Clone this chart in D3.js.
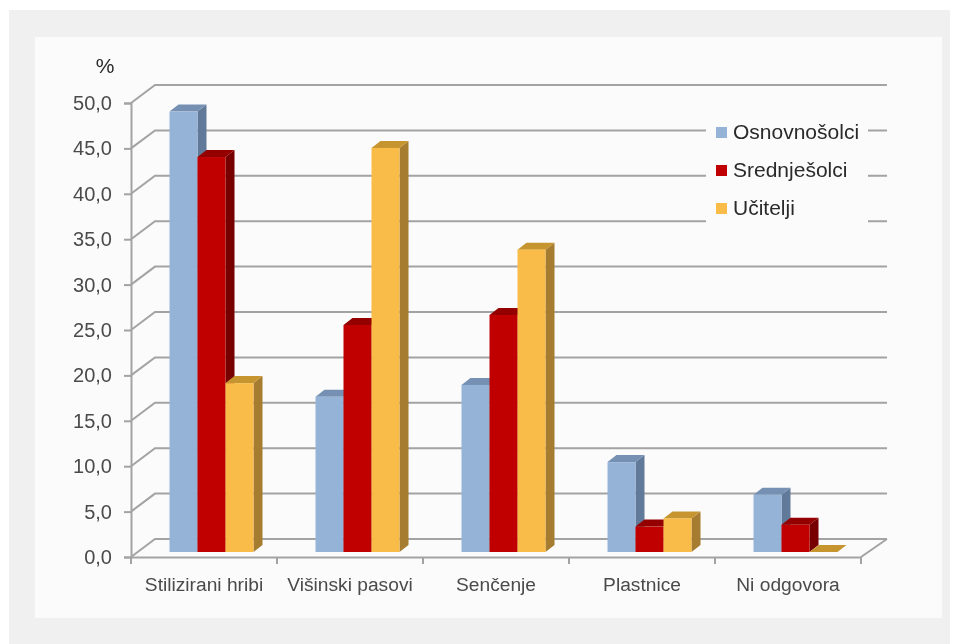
<!DOCTYPE html>
<html>
<head>
<meta charset="utf-8">
<script src="https://cdn.jsdelivr.net/npm/d3@7"></script>
<style>
  html, body { margin: 0; padding: 0; background: #fff; }
  svg { display: block; filter: blur(0.45px); }
  text { font-family: "Liberation Sans", Arial, sans-serif; fill: #4a4a4a; }
</style>
</head>
<body>
<svg id="chart" width="959" height="644"></svg>
<script>
const categories = ["Stilizirani hribi", "Višinski pasovi", "Senčenje", "Plastnice", "Ni odgovora"];
const seriesNames = ["Osnovnošolci", "Srednješolci", "Učitelji"];
const osnovnosolci = [48.5, 17.1, 18.4, 9.9, 6.3];
const srednjesolci = [43.5, 25.0, 26.1, 2.8, 3.0];
const ucitelji = [18.6, 44.5, 33.3, 3.7, 0];
const yTicks = [0, 5, 10, 15, 20, 25, 30, 35, 40, 45, 50];

const seriesValues = [osnovnosolci, srednjesolci, ucitelji];
const front = ["#95b3d7", "#c00000", "#f9bc48"];
const side = ["#627a99", "#770000", "#a67c30"];
const topFace = ["#7590b3", "#940000", "#c6952f"];

const gridColor = "#a3a3a3";
const svg = d3.select("#chart");

// picture frame
svg.append("rect").attr("x", 9).attr("y", 10).attr("width", 941).attr("height", 640).attr("fill", "#f0f0f0");
svg.append("rect").attr("x", 35).attr("y", 37).attr("width", 907).attr("height", 581).attr("fill", "#fbfbfb");

const x = d3.scaleBand().domain(categories).range([131, 861]);
const y = d3.scaleLinear().domain([0, 50]).range([557, 103]);

// depth of the box and of the bars
const wall = { dx: 24, dy: -18 };
const bar = { dx: 9, dy: -7 };
const inset = { dx: 7.5, dy: -5 };

// back wall gridlines and their diagonals on the side wall
const grid = svg.append("g").attr("fill", "none").attr("stroke", gridColor).attr("stroke-width", 2);
grid.selectAll("path")
  .data(yTicks)
  .enter()
  .append("path")
  .attr("d", (d) => `M${x.range()[0]},${y(d)}L${x.range()[0] + wall.dx},${y(d) + wall.dy}H887`);

// floor
grid.append("path")
  .attr("d", `M${x.range()[1]},${y(0)}L887,${y(0) + wall.dy}`);

// legend box hides the gridlines
svg.append("rect").attr("x", 706).attr("y", 118).attr("width", 162).attr("height", 108).attr("fill", "#fbfbfb");

const xAxis = d3.axisBottom(x).tickSize(0).tickPadding(20);
const gx = svg.append("g").attr("transform", `translate(0,${y(0)})`).call(xAxis);
gx.selectAll("text").attr("font-size", 19.2).attr("font-family", null);
gx.select(".domain").attr("stroke", gridColor).attr("stroke-width", 2);
gx.selectAll(".tick line").remove();
gx.selectAll("line.sep")
  .data(d3.range(categories.length + 1))
  .enter()
  .append("line")
  .attr("class", "sep")
  .attr("x1", (i) => 131 + i * x.step())
  .attr("x2", (i) => 131 + i * x.step())
  .attr("y1", 0)
  .attr("y2", 7)
  .attr("stroke", gridColor)
  .attr("stroke-width", 2);

const yAxis = d3.axisLeft(y)
  .tickValues(yTicks)
  .tickSize(7)
  .tickPadding(12)
  .tickFormat((d) => d3.format(".1f")(d).replace(".", ","));
const gy = svg.append("g").attr("transform", "translate(131,0)").call(yAxis);
gy.selectAll("text").attr("font-size", 20).attr("font-family", null);
gy.select(".domain").attr("stroke", gridColor).attr("stroke-width", 2);
gy.selectAll(".tick line").attr("stroke", gridColor).attr("stroke-width", 2);

svg.append("text")
  .attr("x", 105).attr("y", 73)
  .attr("text-anchor", "middle")
  .attr("font-size", 21)
  .style("fill", "#2a2a2a")
  .text("%");

// bars, left to right so side faces are overlapped correctly
const barW = 28;
const groupW = barW * seriesNames.length;
const bars = svg.append("g");
categories.forEach((cat, c) => {
  seriesNames.forEach((name, s) => {
    const v = seriesValues[s][c];
    const x0 = x(cat) + (x.step() - groupW) / 2 + inset.dx + s * barW;
    const x1 = x0 + barW;
    const y0 = y(0) + inset.dy;
    const yTop = y(v) + inset.dy;
    const g = bars.append("g");
    g.append("path")
      .attr("fill", side[s])
      .attr("d", `M${x1},${yTop}L${x1 + bar.dx},${yTop + bar.dy}V${y0 + bar.dy}L${x1},${y0}Z`);
    g.append("path")
      .attr("fill", topFace[s])
      .attr("d", `M${x0},${yTop}L${x0 + bar.dx},${yTop + bar.dy}H${x1 + bar.dx}L${x1},${yTop}Z`);
    if (v > 0) {
      g.append("rect")
        .attr("x", x0)
        .attr("y", yTop)
        .attr("width", barW)
        .attr("height", y0 - yTop)
        .attr("fill", front[s]);
    }
  });
});

// legend
const legendY = d3.scalePoint().domain(seriesNames).range([132.5, 208.5]);
const legend = svg.append("g").selectAll("g")
  .data(seriesNames)
  .enter()
  .append("g")
  .attr("transform", (d) => `translate(716,${legendY(d)})`);
legend.append("rect")
  .attr("x", 0).attr("y", -5.5).attr("width", 11).attr("height", 11)
  .attr("fill", (d, i) => front[i]);
legend.append("text")
  .attr("x", 17).attr("y", 6.5)
  .attr("font-size", 21)
  .style("fill", "#2a2a2a")
  .text((d) => d);
</script>
</body>
</html>
